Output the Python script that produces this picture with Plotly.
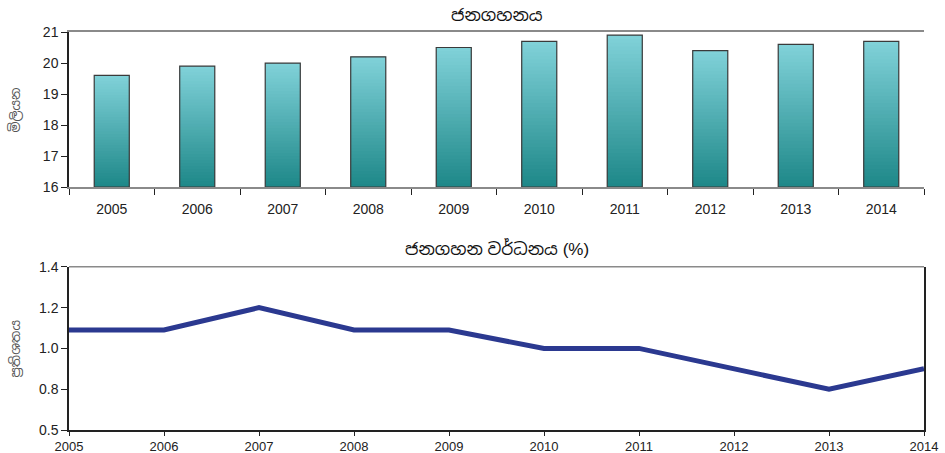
import plotly.graph_objects as go

years = ["2005", "2006", "2007", "2008", "2009", "2010", "2011", "2012", "2013", "2014"]
population = [19.6, 19.9, 20.0, 20.2, 20.5, 20.7, 20.9, 20.4, 20.6, 20.7]
growth_years = [2005, 2006, 2007, 2008, 2009, 2010, 2011, 2012, 2013, 2014]
growth = [1.09, 1.09, 1.2, 1.09, 1.09, 1.0, 1.0, 0.9, 0.8, 0.9]
pop_ticks = [16, 17, 18, 19, 20, 21]
growth_tickvals = [0.6, 0.8, 1.0, 1.2, 1.4]
growth_ticktext = ["0.5", "0.8", "1.0", "1.2", "1.4"]

BASE = 16
N = 40
dark = (30, 136, 137)
light = (128, 209, 216)

def mix(t):
    return "rgb(%d,%d,%d)" % tuple(round(d + (l - d) * t) for d, l in zip(dark, light))

fig = go.Figure()
# gradient bars built as stacked slices (each slice overlaps the next to avoid seams)
for k in range(N):
    seg = [(v - BASE) / N for v in population]
    h = [s * (1.0 if k == N - 1 else 2.0) for s in seg]
    fig.add_trace(go.Bar(
        x=years, y=h, base=[BASE + k * s for s in seg],
        marker=dict(color=mix(k / (N - 1)), line=dict(width=0)),
        width=0.41, xaxis="x", yaxis="y", showlegend=False, hoverinfo="skip"))
# bar outlines
fig.add_trace(go.Bar(
    x=years, y=[v - BASE for v in population], base=[BASE] * len(population),
    marker=dict(color="rgba(0,0,0,0)", line=dict(color="#3a3a3a", width=1.2)),
    width=0.41, xaxis="x", yaxis="y", showlegend=False))

fig.add_trace(go.Scatter(
    x=growth_years, y=growth, mode="lines",
    line=dict(color="#2b3990", width=5), xaxis="x2", yaxis="y2", showlegend=False))

tickfont = dict(family="Liberation Sans, Arial, sans-serif", size=14, color="#222")

fig.update_layout(
    width=945, height=453, barmode="overlay",
    margin=dict(l=69, r=21, t=32, b=23, autoexpand=False),
    plot_bgcolor="white", paper_bgcolor="white",
    font=dict(family="Liberation Sans, Arial, Noto Sans Sinhala, sans-serif"),
    xaxis=dict(domain=[0, 1], anchor="y", type="category", showgrid=False, automargin=False,
               showline=True, linecolor="#8a8a8a", linewidth=1.5, mirror=True,
               ticks="outside", tickson="boundaries", ticklen=6, tickcolor="#222",
               ticklabelstandoff=8, tickfont=tickfont),
    yaxis=dict(domain=[0.61, 1], anchor="x", range=[16, 21], tickvals=pop_ticks,
               showgrid=False, zeroline=False, showline=True, linecolor="#222", automargin=False,
               linewidth=1.5, ticks="outside", ticklen=6, tickcolor="#222",
               tickfont=tickfont),
    xaxis2=dict(domain=[0, 1], anchor="y2", range=[2005, 2014], dtick=1, automargin=False,
                showgrid=False, zeroline=False, showline=True, linecolor="#222",
                linewidth=1.5, ticks="outside", ticklen=4, tickcolor="#222",
                tickfont=dict(family="Liberation Sans, Arial, sans-serif", size=13, color="#222")),
    yaxis2=dict(domain=[0, 0.41], anchor="x2", range=[0.6, 1.4], automargin=False,
                tickvals=growth_tickvals, ticktext=growth_ticktext,
                showgrid=False, zeroline=False, showline=True, linecolor="#222",
                linewidth=1.5, mirror=True, ticks="outside", ticklen=6, tickcolor="#222",
                tickfont=tickfont),
    shapes=[dict(type="line", xref="x2 domain", yref="y2 domain", x0=0, x1=1, y0=1, y1=1,
                 line=dict(color="#8a8a8a", width=1.5))],
    annotations=[
        dict(text="ජනගහනය", xref="paper", yref="paper", x=0.5, y=1, yanchor="middle",
             yshift=17, showarrow=False, font=dict(size=17, color="#111")),
        dict(text="ජනගහන වර්ධනය (%)", xref="paper", yref="paper", x=0.5, y=0.41,
             yanchor="middle", yshift=18, showarrow=False, font=dict(size=17, color="#111")),
        dict(text="මිලියන", xref="paper", yref="paper", x=0, xshift=-54, y=0.805,
             xanchor="center", yanchor="middle",
             textangle=-90, showarrow=False, font=dict(size=13, color="#555")),
        dict(text="ප්‍රතිශතය", xref="paper", yref="paper", x=0, xshift=-54, y=0.205,
             xanchor="center", yanchor="middle",
             textangle=-90, showarrow=False, font=dict(size=13, color="#555")),
    ],
)

fig.write_html("out.html", config={"displayModeBar": False},
               post_script="document.body.style.margin='0';")
